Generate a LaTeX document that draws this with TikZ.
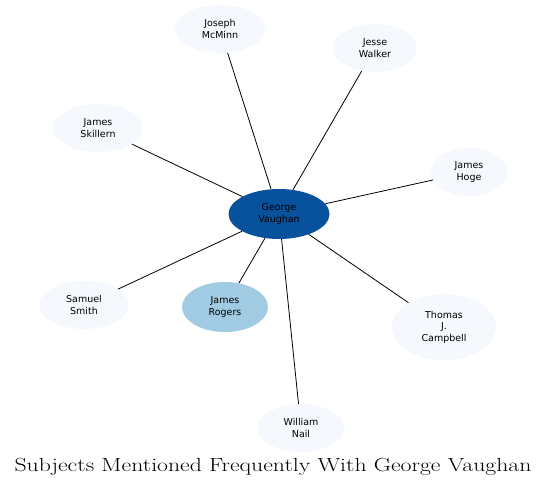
\documentclass[tikz,border=0pt]{standalone}
\usepackage{fontspec}
\usepackage{tikz}
\usetikzlibrary{shapes.geometric}
\newfontfamily\dejavu{DejaVu Sans}
\definecolor{pale}{HTML}{F5F9FE}
\definecolor{deep}{HTML}{08519C}
\definecolor{mid}{HTML}{A0CBE2}
\tikzset{
  subj/.style={ellipse, fill=pale, inner sep=0pt, align=center,
    font=\dejavu\fontsize{9.5}{11.5}\selectfont, minimum width=90pt, minimum height=48pt},
  link/.style={draw=black, line width=0.8pt}
}

\begin{document}
\begin{tikzpicture}[x=1pt, y=-1pt]
    \useasboundingbox (0,0) rectangle (548,489);
    \node[subj, fill=deep, minimum width=101pt, minimum height=50pt] (vaughan) at (279,214) {George\\Vaughan};
    \node[subj] (mcminn) at (220,29) {Joseph\\McMinn};
    \node[subj, minimum width=84pt] (walker) at (375,48) {Jesse\\Walker};
    \node[subj] (skillern) at (98,128) {James\\Skillern};
    \node[subj, minimum width=76pt] (hoge) at (469,172) {James\\Hoge};
    \node[subj] (smith) at (84,305) {Samuel\\Smith};
    \node[subj, fill=mid, minimum width=86pt, minimum height=50pt] (rogers) at (225,307) {James\\Rogers};
    \node[subj, minimum width=104pt, minimum height=66pt] (campbell) at (444,327) {Thomas\\J.\\Campbell};
    \node[subj, minimum width=86pt] (nail) at (301,428) {William\\Nail};

    % spokes
    \foreach \other in {mcminn,walker,skillern,hoge,smith,rogers,campbell,nail}
      \draw[link] (vaughan) -- (\other);

    \node[font=\fontsize{19}{22}\selectfont] (title) at (273,467) {\scalebox{1.25}[1]{Subjects Mentioned Frequently With George Vaughan}};
\end{tikzpicture}
\end{document}
